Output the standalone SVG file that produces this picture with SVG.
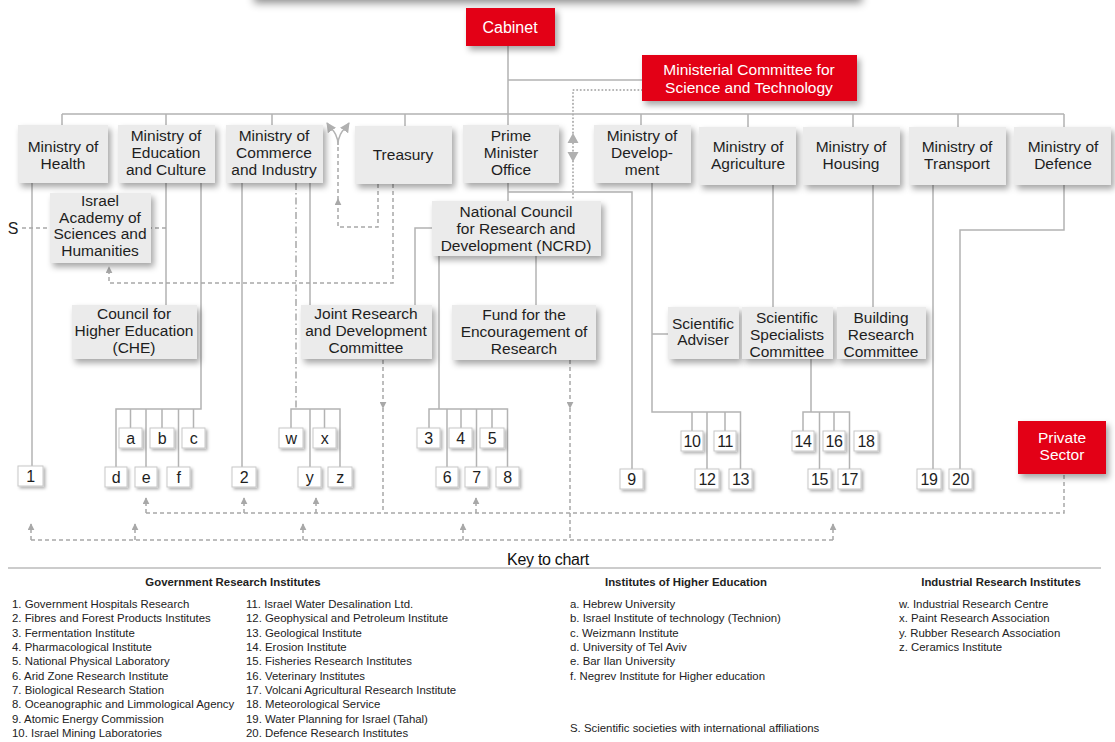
<svg xmlns="http://www.w3.org/2000/svg" width="1115" height="742" viewBox="0 0 1115 742">
<defs>
<filter id="sh" x="-20%" y="-20%" width="150%" height="170%"><feDropShadow dx="3" dy="4" stdDeviation="3" flood-color="#000" flood-opacity="0.35"/></filter>
<filter id="shtop" x="-10%" y="-50%" width="120%" height="250%"><feDropShadow dx="2" dy="3" stdDeviation="4" flood-color="#000" flood-opacity="0.45"/></filter>
<filter id="shs" x="-40%" y="-40%" width="200%" height="200%"><feDropShadow dx="2" dy="2" stdDeviation="1.5" flood-color="#000" flood-opacity="0.3"/></filter>
<marker id="ah" viewBox="0 0 10 10" refX="9" refY="5" markerWidth="7" markerHeight="7" orient="auto" markerUnits="userSpaceOnUse"><path d="M0,0 L10,5 L0,10 z" fill="#a8a8a8"/></marker>
<marker id="ahb" viewBox="0 0 10 10" refX="9" refY="5" markerWidth="10" markerHeight="10" orient="auto" markerUnits="userSpaceOnUse"><path d="M0,0 L10,5 L0,10 z" fill="#b0b0b0"/></marker>
<style>
.box{fill:#ebebeb;filter:url(#sh)}
.red{fill:#e30613;filter:url(#sh)}
.sm{fill:#fff;stroke:#c8c8c8;stroke-width:1;filter:url(#shs)}
.t{font-family:"Liberation Sans",Arial,sans-serif;font-size:15.5px;fill:#1e1e1e;text-anchor:middle}
.w{fill:#fff}
.n{font-size:16px;letter-spacing:-0.5px}
.ln{stroke:#b3b3b3;stroke-width:1.5;fill:none}
.ds{stroke:#a8a8a8;stroke-width:1.5;fill:none;stroke-dasharray:4 3}
.dd{stroke:#a8a8a8;stroke-width:1.5;fill:none;stroke-dasharray:7 3 1.5 3}
.dt{stroke:#b0b0b0;stroke-width:2;fill:none;stroke-dasharray:0.1 3.5;stroke-linecap:round}
.lg{font-family:"Liberation Sans",Arial,sans-serif;font-size:11.4px;fill:#222}
.lh{font-family:"Liberation Sans",Arial,sans-serif;font-size:11.4px;font-weight:bold;fill:#222;text-anchor:middle}
</style>
</defs>
<rect width="1115" height="742" fill="#fff"/>
<rect x="252" y="-40" width="608" height="40" fill="#fff" filter="url(#shtop)"/>

<g id="connectors">
<path class="ln" d="M508,46 V125 M508,183 V201 M508,80 H642 M62,114 H1064"/>
<path class="ln" d="M62,114 V125 M166,114 V125 M272,114 V125 M405,114 V126 M641,114 V125 M748,114 V127 M853,114 V127 M958,114 V127 M1064,114 V127"/>
<path class="ln" d="M32,183 V466"/>
<path class="ln" d="M166,183 V305 M201,183 V409 H116 V467 M130.5,409 V428 M146,409 V467 M162,409 V428 M178.5,409 V467 M193.5,409 V428"/>
<path class="ln" d="M242,183 V467 M310,183 V305"/>
<path class="dd" d="M296,183 V409"/>
<path class="ln" d="M291,428 V409 H340 V467 M310,409 V467 M324.5,409 V428"/>
<path class="ln" d="M432,228 H415 V305 M508,192 H632 V469"/>
<path class="ln" d="M439,256 V409 M429,428 V409 H507.5 V467 M447,409 V467 M461,409 V428 M476.5,409 V467 M492,409 V428"/>
<path class="ln" d="M536,256 V305"/>
<path class="ln" d="M652,183 V412 H740.5 V469 M652,334 H668 M692,412 V431 M707,412 V469 M725,412 V431"/>
<path class="ln" d="M773,185 V307 M873,185 V307"/>
<path class="ln" d="M811,359 V412 M803,431 V412 H849.5 V469 M819.5,412 V469 M834,412 V431"/>
<path class="ln" d="M933,185 V469 M1064,185 V230 H960 V469"/>
<path class="ds" d="M22,228 H166"/>
<path class="ds" d="M378,184 V227 H338 V199" marker-end="url(#ah)"/>
<path class="ds" d="M338,200 V144"/>
<path class="ln" d="M338,145 C338,133 331,129 327,123" marker-end="url(#ahb)"/>
<path class="ln" d="M338,145 C338,133 345,129 349,123" marker-end="url(#ahb)"/>
<path class="ds" d="M393,184 V283 H109 V267" marker-end="url(#ah)"/>
<path class="ds" d="M383,360 V408" marker-end="url(#ah)"/>
<path class="ds" d="M383,408 V513"/>
<path class="ds" d="M570,360 V408" marker-end="url(#ah)"/>
<path class="ds" d="M570,408 V540"/>
<path class="ds" d="M146,513 H1064 V474"/>
<path class="ds" d="M146,513 V498" marker-end="url(#ah)"/>
<path class="ds" d="M244,513 V498" marker-end="url(#ah)"/>
<path class="ds" d="M316,513 V498" marker-end="url(#ah)"/>
<path class="ds" d="M476,513 V498" marker-end="url(#ah)"/>
<path class="ds" d="M31,540 H833"/>
<path class="ds" d="M31,540 V524" marker-end="url(#ah)"/>
<path class="ds" d="M135,540 V524" marker-end="url(#ah)"/>
<path class="ds" d="M303,540 V524" marker-end="url(#ah)"/>
<path class="ds" d="M463,540 V524" marker-end="url(#ah)"/>
<path class="ds" d="M833,540 V524" marker-end="url(#ah)"/>
<path class="dt" d="M642,90 H573 V201"/>
<path d="M573,133 L567.5,143 H578.5 Z M573,162 L567.5,152 H578.5 Z" fill="#b0b0b0"/>
</g>

<g id="cabinet"><rect class="red" x="466" y="8" width="89" height="38"/><text class="t w" x="510" y="33" style="font-size:16px">Cabinet</text></g>
<g id="ministerial"><rect class="red" x="642" y="55" width="215" height="46"/><text class="t w" x="749" y="75">Ministerial Committee for</text><text class="t w" x="749" y="93">Science and Technology</text></g>
<g id="health"><rect class="box" x="18" y="125" width="90" height="58"/><text class="t" x="63" y="151.5">Ministry of</text><text class="t" x="63" y="168.5">Health</text></g>
<g id="education"><rect class="box" x="118" y="125" width="97" height="58"/><text class="t" x="166" y="140.5">Ministry of</text><text class="t" x="166" y="157.5">Education</text><text class="t" x="166" y="174.5">and Culture</text></g>
<g id="commerce"><rect class="box" x="226" y="125" width="97" height="58"/><text class="t" x="274" y="140.5">Ministry of</text><text class="t" x="274" y="157.5">Commerce</text><text class="t" x="274" y="174.5">and Industry</text></g>
<g id="treasury"><rect class="box" x="355" y="126" width="97" height="58"/><text class="t" x="403" y="160">Treasury</text></g>
<g id="pmo"><rect class="box" x="463" y="125" width="96" height="58"/><text class="t" x="511" y="140.5">Prime</text><text class="t" x="511" y="157.5">Minister</text><text class="t" x="511" y="174.5">Office</text></g>
<g id="development"><rect class="box" x="594" y="125" width="97" height="58"/><text class="t" x="642" y="140.5">Ministry of</text><text class="t" x="642" y="157.5">Develop-</text><text class="t" x="642" y="174.5">ment</text></g>
<g id="agriculture"><rect class="box" x="699" y="127" width="97" height="58"/><text class="t" x="748" y="151.5">Ministry of</text><text class="t" x="748" y="168.5">Agriculture</text></g>
<g id="housing"><rect class="box" x="803" y="127" width="97" height="58"/><text class="t" x="851" y="151.5">Ministry of</text><text class="t" x="851" y="168.5">Housing</text></g>
<g id="transport"><rect class="box" x="909" y="127" width="97" height="58"/><text class="t" x="957" y="151.5">Ministry of</text><text class="t" x="957" y="168.5">Transport</text></g>
<g id="defence"><rect class="box" x="1014" y="127" width="97" height="58"/><text class="t" x="1063" y="151.5">Ministry of</text><text class="t" x="1063" y="168.5">Defence</text></g>
<g id="academy"><rect class="box" x="50" y="193" width="101" height="70"/><text class="t" x="100" y="206">Israel</text><text class="t" x="100" y="222.5">Academy of</text><text class="t" x="100" y="239">Sciences and</text><text class="t" x="100" y="255.5">Humanities</text></g>
<g id="s-label"><text class="t" x="13" y="234" style="font-size:16px">S</text></g>
<g id="ncrd"><rect class="box" x="432" y="201" width="169" height="55"/><text class="t" x="516" y="216.5">National Council</text><text class="t" x="516" y="233.5">for Research and</text><text class="t" x="516" y="250.5">Development (NCRD)</text></g>
<g id="che"><rect class="box" x="72" y="305" width="125" height="54"/><text class="t" x="134" y="318.5">Council for</text><text class="t" x="134" y="335.5">Higher Education</text><text class="t" x="134" y="352.5">(CHE)</text></g>
<g id="joint"><rect class="box" x="301" y="305" width="131" height="54"/><text class="t" x="366" y="318.5">Joint Research</text><text class="t" x="366" y="335.5">and Development</text><text class="t" x="366" y="352.5">Committee</text></g>
<g id="fund"><rect class="box" x="452" y="305" width="144" height="55"/><text class="t" x="524" y="320">Fund for the</text><text class="t" x="524" y="337">Encouragement of</text><text class="t" x="524" y="354">Research</text></g>
<g id="sciadviser"><rect class="box" x="668" y="307" width="71" height="52"/><text class="t" x="703" y="328.5">Scientific</text><text class="t" x="703" y="345">Adviser</text></g>
<g id="scispec"><rect class="box" x="742" y="307" width="91" height="52"/><text class="t" x="787" y="322.5">Scientific</text><text class="t" x="787" y="339.5">Specialists</text><text class="t" x="787" y="356.5">Committee</text></g>
<g id="building"><rect class="box" x="837" y="307" width="89" height="52"/><text class="t" x="881" y="322.5">Building</text><text class="t" x="881" y="339.5">Research</text><text class="t" x="881" y="356.5">Committee</text></g>
<g id="private"><rect class="red" x="1018" y="421" width="88" height="53"/><text class="t w" x="1062" y="442.5">Private</text><text class="t w" x="1062" y="459.5">Sector</text></g>

<g id="n1"><rect class="sm" x="18" y="466" width="25" height="20"/><text class="t n" x="30.5" y="482">1</text></g>
<g id="na"><rect class="sm" x="119" y="428" width="23" height="20"/><text class="t n" x="130.5" y="443.5">a</text></g>
<g id="nb"><rect class="sm" x="150" y="428" width="24" height="20"/><text class="t n" x="162" y="443.5">b</text></g>
<g id="nc"><rect class="sm" x="182" y="428" width="23" height="20"/><text class="t n" x="193.5" y="443.5">c</text></g>
<g id="nd"><rect class="sm" x="105" y="467" width="22" height="20"/><text class="t n" x="116" y="482.5">d</text></g>
<g id="ne"><rect class="sm" x="135" y="467" width="22" height="20"/><text class="t n" x="146" y="482.5">e</text></g>
<g id="nf"><rect class="sm" x="167" y="467" width="23" height="20"/><text class="t n" x="178.5" y="482.5">f</text></g>
<g id="n2"><rect class="sm" x="232" y="467" width="24" height="20"/><text class="t n" x="244" y="482.5">2</text></g>
<g id="nw"><rect class="sm" x="279" y="428" width="24" height="20"/><text class="t n" x="291" y="443.5">w</text></g>
<g id="nx"><rect class="sm" x="313" y="428" width="23" height="20"/><text class="t n" x="324.5" y="443.5">x</text></g>
<g id="ny"><rect class="sm" x="298" y="467" width="23" height="20"/><text class="t n" x="309.5" y="482.5">y</text></g>
<g id="nz"><rect class="sm" x="328" y="467" width="24" height="20"/><text class="t n" x="340" y="482.5">z</text></g>
<g id="n3"><rect class="sm" x="417" y="428" width="23" height="20"/><text class="t n" x="428.5" y="443.5">3</text></g>
<g id="n4"><rect class="sm" x="449" y="428" width="23" height="20"/><text class="t n" x="460.5" y="443.5">4</text></g>
<g id="n5"><rect class="sm" x="480" y="428" width="24" height="20"/><text class="t n" x="492" y="443.5">5</text></g>
<g id="n6"><rect class="sm" x="436" y="467" width="22" height="20"/><text class="t n" x="447" y="482.5">6</text></g>
<g id="n7"><rect class="sm" x="465" y="467" width="23" height="20"/><text class="t n" x="476.5" y="482.5">7</text></g>
<g id="n8"><rect class="sm" x="496" y="467" width="23" height="20"/><text class="t n" x="507.5" y="482.5">8</text></g>
<g id="n9"><rect class="sm" x="620" y="469" width="23" height="20"/><text class="t n" x="631.5" y="484.5">9</text></g>
<g id="n10"><rect class="sm" x="681" y="431" width="22" height="20"/><text class="t n" x="692" y="446.5">10</text></g>
<g id="n11"><rect class="sm" x="714" y="431" width="22" height="20"/><text class="t n" x="725" y="446.5">11</text></g>
<g id="n12"><rect class="sm" x="695" y="469" width="24" height="20"/><text class="t n" x="707" y="484.5">12</text></g>
<g id="n13"><rect class="sm" x="729" y="469" width="23" height="20"/><text class="t n" x="740.5" y="484.5">13</text></g>
<g id="n14"><rect class="sm" x="792" y="431" width="22" height="20"/><text class="t n" x="803" y="446.5">14</text></g>
<g id="n16"><rect class="sm" x="823" y="431" width="22" height="20"/><text class="t n" x="834" y="446.5">16</text></g>
<g id="n18"><rect class="sm" x="854" y="431" width="24" height="20"/><text class="t n" x="866" y="446.5">18</text></g>
<g id="n15"><rect class="sm" x="808" y="469" width="23" height="20"/><text class="t n" x="819.5" y="484.5">15</text></g>
<g id="n17"><rect class="sm" x="838" y="469" width="23" height="20"/><text class="t n" x="849.5" y="484.5">17</text></g>
<g id="n19"><rect class="sm" x="917" y="469" width="24" height="20"/><text class="t n" x="929" y="484.5">19</text></g>
<g id="n20"><rect class="sm" x="949" y="469" width="23" height="20"/><text class="t n" x="960.5" y="484.5">20</text></g>

<g id="key">
<text x="548" y="565" style="font-family:'Liberation Sans',Arial,sans-serif;font-size:16px;fill:#111;text-anchor:middle;letter-spacing:-0.3px">Key to chart</text>
<path d="M8,568 H1101" stroke="#bbb" stroke-width="1.5"/>
<text class="lh" x="233" y="586">Government Research Institutes</text>
<text class="lh" x="686" y="586">Institutes of Higher Education</text>
<text class="lh" x="1001" y="586">Industrial Research Institutes</text>
<g class="lg">
<text x="12" y="608">1. Government Hospitals Research</text>
<text x="12" y="622">2. Fibres and Forest Products Institutes</text>
<text x="12" y="637">3. Fermentation Institute</text>
<text x="12" y="651">4. Pharmacological Institute</text>
<text x="12" y="665">5. National Physical Laboratory</text>
<text x="12" y="680">6. Arid Zone Research Institute</text>
<text x="12" y="694">7. Biological Research Station</text>
<text x="12" y="708">8. Oceanographic and Limmological Agency</text>
<text x="12" y="723">9. Atomic Energy Commission</text>
<text x="12" y="737">10. Israel Mining Laboratories</text>
<text x="246" y="608">11. Israel Water Desalination Ltd.</text>
<text x="246" y="622">12. Geophysical and Petroleum Institute</text>
<text x="246" y="637">13. Geological Institute</text>
<text x="246" y="651">14. Erosion Institute</text>
<text x="246" y="665">15. Fisheries Research Institutes</text>
<text x="246" y="680">16. Veterinary Institutes</text>
<text x="246" y="694">17. Volcani Agricultural Research Institute</text>
<text x="246" y="708">18. Meteorological Service</text>
<text x="246" y="723">19. Water Planning for Israel (Tahal)</text>
<text x="246" y="737">20. Defence Research Institutes</text>
<text x="570" y="608">a. Hebrew University</text>
<text x="570" y="622">b. Israel Institute of technology (Technion)</text>
<text x="570" y="637">c. Weizmann Institute</text>
<text x="570" y="651">d. University of Tel Aviv</text>
<text x="570" y="665">e. Bar Ilan University</text>
<text x="570" y="680">f. Negrev Institute for Higher education</text>
<text x="570" y="732">S. Scientific societies with international affiliations</text>
<text x="899" y="608">w. Industrial Research Centre</text>
<text x="899" y="622">x. Paint Research Association</text>
<text x="899" y="637">y. Rubber Research Association</text>
<text x="899" y="651">z. Ceramics Institute</text>
</g>
</g>
</svg>
